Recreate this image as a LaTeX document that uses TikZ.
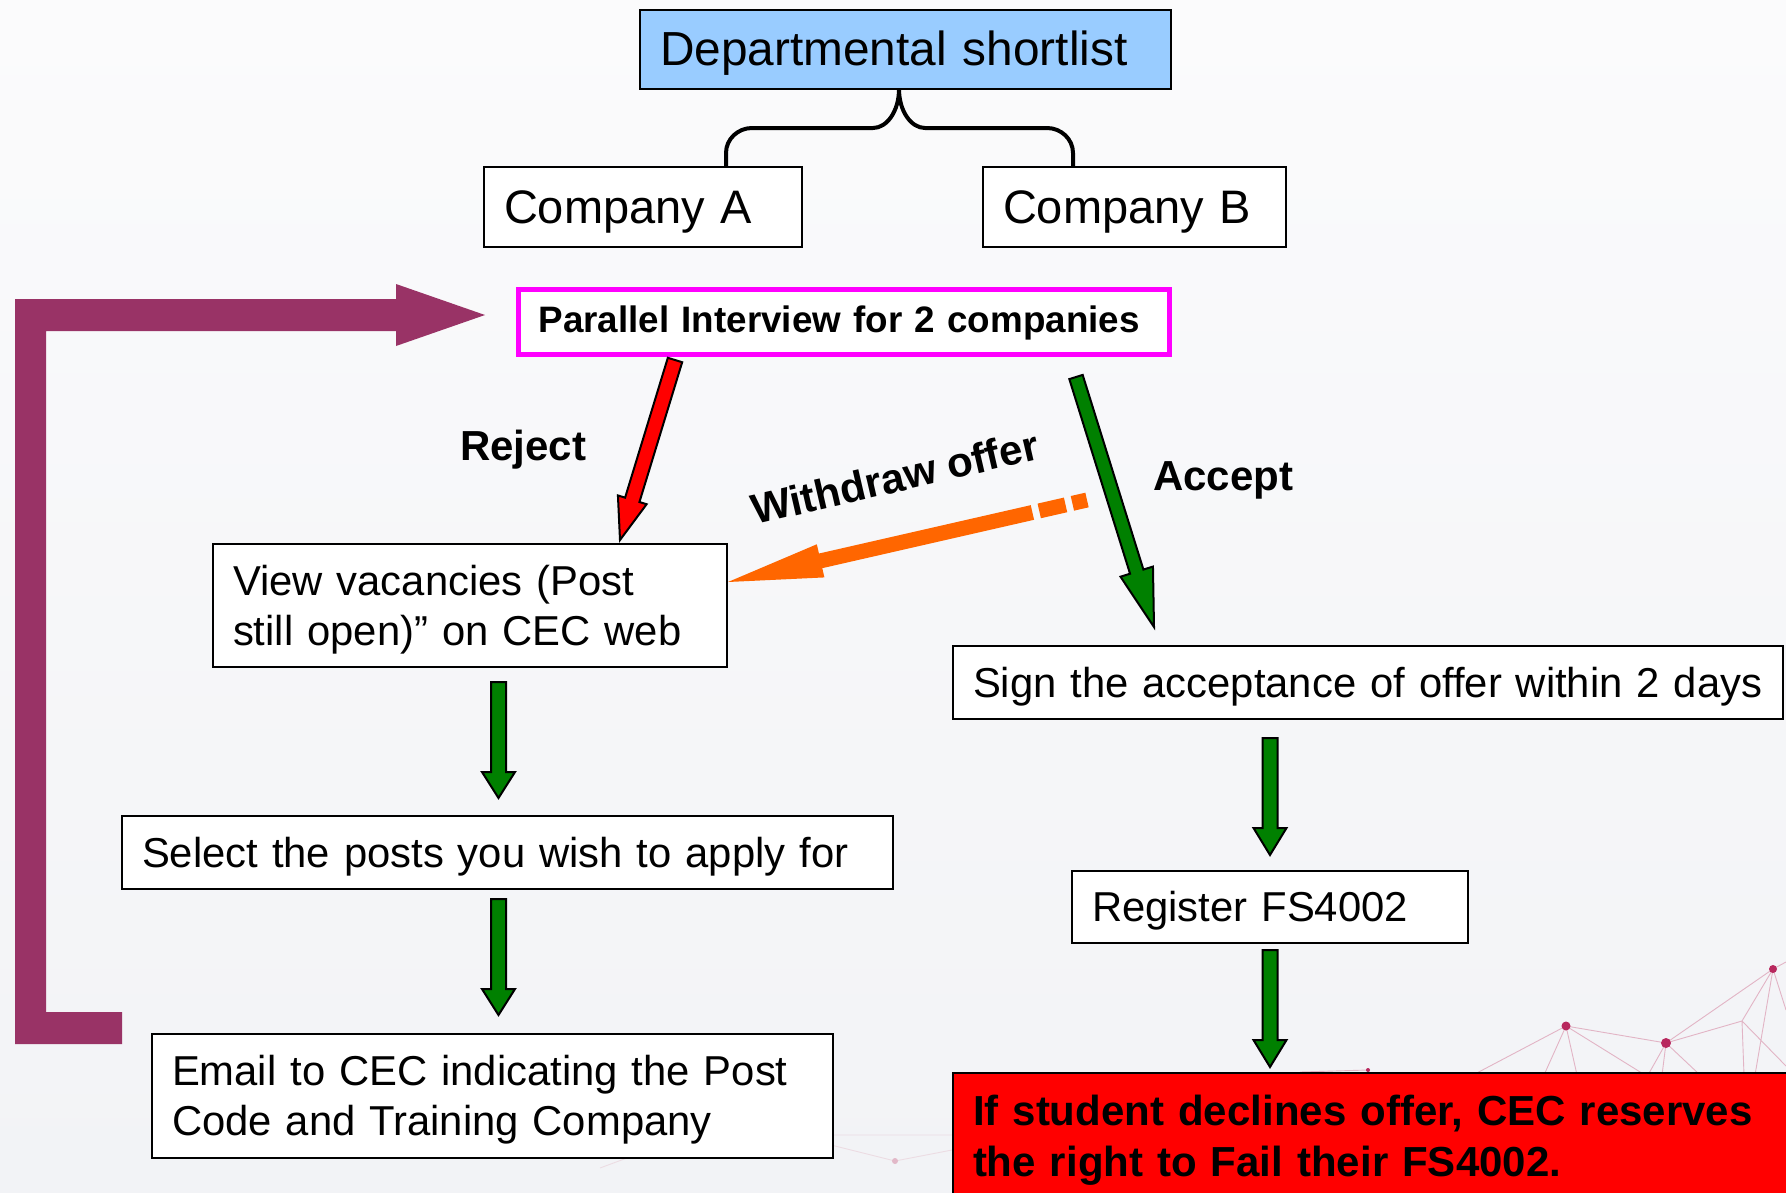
\documentclass[tikz,border=0pt]{standalone}
\usepackage{fontspec}
\setmainfont{Liberation Sans}
\usetikzlibrary{calc}
\definecolor{depblue}{HTML}{99CCFF}
\definecolor{maroonC}{HTML}{993366}
\definecolor{greenC}{HTML}{008000}
\definecolor{orangeC}{HTML}{FF6600}
\definecolor{magentaC}{HTML}{FF00FF}
\definecolor{dotC}{HTML}{B8285E}
\definecolor{netC}{HTML}{E2B4C5}
\definecolor{faintC}{HTML}{ECDCE3}
\definecolor{bgTop}{HTML}{FBFBFC}
\definecolor{bgBot}{HTML}{F2F3F6}

\newcommand{\bodyfont}{\fontsize{41.8}{50}\selectfont}
\newcommand{\titlefont}{\fontsize{47}{55}\selectfont}
\newcommand{\labelfont}{\bfseries\fontsize{42}{50}\selectfont}

% #1 start, #2 end, #3 shaft half width, #4 head half width, #5 head length, #6 style
\newcommand{\mkblockarrow}[6]{%
  \path ($(#2)!#5!(#1)$) coordinate (ba-h);
  \draw[#6] ($(#1)!#3!90:(#2)$) -- ($(ba-h)!#3!90:(#2)$) -- ($(ba-h)!#4!90:(#2)$)
    -- (#2) -- ($(ba-h)!#4!-90:(#2)$) -- ($(ba-h)!#3!-90:(#2)$) -- ($(#1)!#3!-90:(#2)$) -- cycle;
}

\begin{document}
\begin{tikzpicture}[x=1pt,y=-1pt,
  boxst/.style={draw=black, line width=2pt, fill=white, anchor=north west,
    inner xsep=20pt, inner ysep=0pt, align=left, font=\bodyfont,
    text height=38pt, text depth=9pt},
  twoline/.style={text depth=59pt},
  titlebox/.style={boxst, font=\titlefont, text height=42pt, text depth=10pt},
  lbl/.style={font=\labelfont, inner sep=0pt},
  arrowline/.style={draw=black, line width=2pt, line join=miter},
  net/.style={draw=netC, line width=0.9pt},
  faintnet/.style={draw=faintC, line width=0.9pt},
  netdot/.style={fill=dotC},
  faintdot/.style={fill=faintC!80!dotC}
]
\useasboundingbox (0,0) rectangle (1786,1192);
\clip (0,0) rectangle (1786,1192);
\shade[top color=bgTop, bottom color=bgBot] (0,0) rectangle (1786,1192);

% background network decoration
\coordinate (D1) at (1566,1026);
\coordinate (D2) at (1666,1043);
\coordinate (D3) at (1773,969);
\coordinate (J) at (1742,1021);
\coordinate (D4) at (1368,1070);
\draw[net] (D1) -- (1473,1075) (D1) -- (1544,1075) (D1) -- (1577,1075) (D1) -- (D2)
  (D1) -- (1645,1075) (D2) -- (1648,1075) (D2) -- (1662,1075) (D2) -- (1700,1075)
  (D2) -- (J) (D2) -- (D3) (J) -- (D3) (J) -- (1744,1075) (J) -- (1786,1066)
  (D3) -- (1755,1075) (D3) -- (1786,1010) (D3) -- (1786,962) (D4) -- (1300,1072);
\fill[netdot] (D1) circle (4.5pt) (D2) circle (5pt) (D3) circle (4pt) (D4) circle (2pt);
\coordinate (E1) at (670,1142);
\coordinate (E2) at (791,1135);
\coordinate (E3) at (895,1161);
\draw[faintnet] (600,1168) -- (E1) -- (E2) -- (E3) -- (952,1150) (E2) -- (952,1135);
\fill[faintdot] (E1) circle (3pt) (E2) circle (3pt) (E3) circle (3pt);

% nodes
\node[titlebox, fill=depblue, text width=491pt, minimum height=79pt,
  font=\fontsize{47.8}{56}\selectfont] (dep) at (639,9)
  {\mbox{Departmental shortlist}};
\node[titlebox, text width=278pt, minimum height=80pt] (compA) at (483,166)
  {\mbox{Company A}};
\node[titlebox, text width=263pt, minimum height=80pt] (compB) at (982,166)
  {\mbox{Company B}};
\node[boxst, draw=magentaC, line width=5pt, text width=611pt, minimum height=65pt,
  font=\bfseries\fontsize{36.8}{44}\selectfont, text height=29pt, text depth=8pt] (par) at (516,287)
  {\mbox{Parallel Interview for 2 companies}};
\node[boxst, twoline, text width=474pt, minimum height=123pt] (view) at (212,543)
  {\mbox{View vacancies (Post}\\\mbox{still open)” on CEC web}};
\node[boxst, text width=731pt, minimum height=73pt] (sel) at (121,815)
  {\mbox{Select the posts you wish to apply for}};
\node[boxst, twoline, text width=641pt, minimum height=124pt] (email) at (151,1033)
  {\mbox{Email to CEC indicating the Post}\\\mbox{Code and Training Company}};
\node[boxst, text width=790pt, minimum height=73pt] (sign) at (952,645)
  {\mbox{Sign the acceptance of offer within 2 days}};
\node[boxst, text width=356pt, minimum height=72pt] (reg) at (1071,870)
  {\mbox{Register FS4002}};
\node[boxst, fill=red, text width=880pt, minimum height=127pt, text depth=60pt,
  font=\bfseries\fontsize{42}{51}\selectfont] (warn) at (952,1072)
  {\mbox{If student declines offer, CEC reserves}\\\mbox{the right to Fail their FS4002.}};

% brace from departmental shortlist to the two companies
\coordinate (braceL) at (726,166);
\coordinate (braceR) at (1073,166);
\coordinate (braceTop) at (899,89);
\draw[line width=4pt] (braceL) -- (726,153) .. controls (726,139) and (738,128) .. (752,128)
  -- (873,128) .. controls (887,128) and (899,111) .. (braceTop)
  .. controls (899,111) and (911,128) .. (925,128) -- (1047,128)
  .. controls (1061,128) and (1073,139) .. (1073,153) -- (braceR);

% big maroon return arrow
\fill[maroonC] (15,299) -- (396,299) -- (396,284) -- (485,315) -- (396,346) -- (396,331)
  -- (46,331) -- (46,1012) -- (122,1012) -- (122,1044) -- (15,1044) -- cycle;

% reject / accept arrows
\coordinate (rejS) at (675,360);
\coordinate (rejE) at (620,540);
\mkblockarrow{rejS}{rejE}{7.5pt}{15pt}{42pt}{arrowline, fill=red}
\coordinate (accS) at (1076,377);
\coordinate (accE) at (1154,627);
\mkblockarrow{accS}{accE}{7pt}{17pt}{58pt}{arrowline, fill=greenC}

% vertical green arrows
\coordinate (g1S) at (498.5,682);
\coordinate (g1E) at (498.5,798);
\mkblockarrow{g1S}{g1E}{7.5pt}{16.5pt}{26pt}{arrowline, fill=greenC}
\coordinate (g2S) at (498.5,899);
\coordinate (g2E) at (498.5,1015);
\mkblockarrow{g2S}{g2E}{7.5pt}{16.5pt}{26pt}{arrowline, fill=greenC}
\coordinate (g3S) at (1270,738);
\coordinate (g3E) at (1270,855);
\mkblockarrow{g3S}{g3E}{7.5pt}{16.5pt}{27pt}{arrowline, fill=greenC}
\coordinate (g4S) at (1270,950);
\coordinate (g4E) at (1270,1067);
\mkblockarrow{g4S}{g4E}{7.5pt}{16.5pt}{27pt}{arrowline, fill=greenC}

% orange withdraw arrow
\coordinate (owS) at (1087,500);
\coordinate (owE) at (728,582);
\path ($(owE)!95pt!(owS)$) coordinate (owH) ($(owE)!90pt!(owS)$) coordinate (owH2);
\draw[orangeC, line width=15pt, line cap=butt,
  dash pattern=on 15pt off 7pt on 27pt off 7pt on 600pt] (owS) -- (owH2);
\fill[orangeC] ($(owH)!17pt!90:(owE)$) -- (owE) -- ($(owH)!17pt!-90:(owE)$) -- cycle;

% labels
\node[lbl, anchor=base west] (lblRej) at (460,460) {Reject};
\node[lbl, anchor=base west] (lblAcc) at (1153,490) {Accept};
\node[lbl, anchor=base west, rotate=13] (lblWd) at (755,525) {Withdraw offer};
\end{tikzpicture}
\end{document}
